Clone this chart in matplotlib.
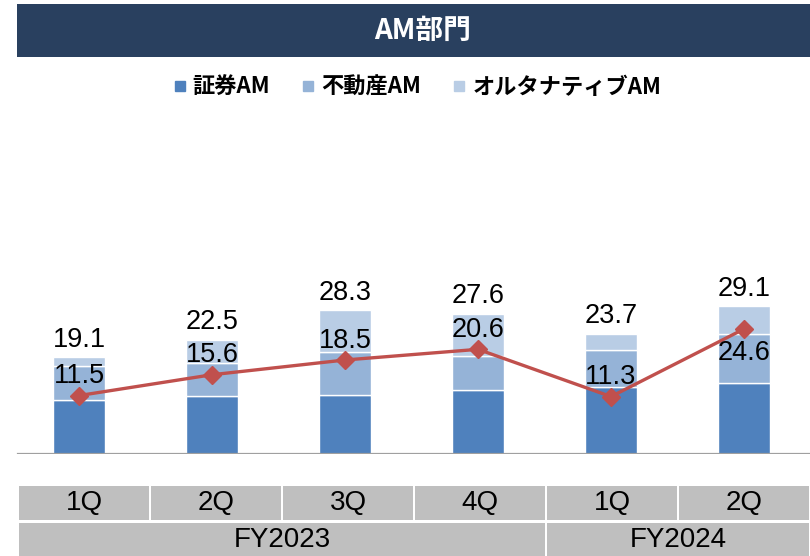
import matplotlib
matplotlib.use('Agg')
import matplotlib.pyplot as plt
from matplotlib.patches import Rectangle
from matplotlib.lines import Line2D

plt.rcParams['font.family'] = ['Liberation Sans', 'Noto Sans CJK JP', 'DejaVu Sans']

# データ
quarters = ['1Q', '2Q', '3Q', '4Q', '1Q', '2Q']
years = ['FY2023', 'FY2024']
year_counts = [4, 2]
securities = [10.6, 11.4, 11.6, 12.6, 13.2, 14.0]
real_estate = [6.7, 6.5, 8.5, 6.7, 7.3, 9.6]
alternative = [1.8, 4.6, 8.2, 8.3, 3.2, 5.5]
totals = [19.1, 22.5, 28.3, 27.6, 23.7, 29.1]
line_vals = [11.5, 15.6, 18.5, 20.6, 11.3, 24.6]
series_names = ['証券AM', '不動産AM', 'オルタナティブAM']

c_dark = '#4F81BD'
c_mid = '#95B3D7'
c_light = '#B9CDE5'
c_line = '#C0504D'
cjk = ['Noto Sans CJK JP', 'DejaVu Sans']

fig = plt.figure(figsize=(8.1, 5.56), dpi=100)

# タイトルバー
fig.patches.append(Rectangle((17 / 810, 1 - 57 / 556), 793 / 810, 53 / 556,
                             transform=fig.transFigure, facecolor='#29405F',
                             edgecolor='none', zorder=0))
fig.text(0.522, 1 - 31 / 556, 'AM部門', color='white', fontsize=20,
         fontweight='bold', family=cjk, ha='center', va='center')

# 棒グラフ
ax = fig.add_axes([12.5 / 810, 102 / 556, 798 / 810, 344 / 556])
x = list(range(len(quarters)))
w = 0.385
b2 = [a + b for a, b in zip(securities, real_estate)]
ax.bar(x, securities, w, color=c_dark, edgecolor='white', linewidth=1, zorder=2)
ax.bar(x, real_estate, w, bottom=securities, color=c_mid, edgecolor='white', linewidth=1, zorder=2)
ax.bar(x, alternative, w, bottom=b2, color=c_light, edgecolor='white', linewidth=1, zorder=2)
ax.plot(x, line_vals, color=c_line, linewidth=2.4, marker='D', markersize=9, zorder=3)

for i, t in enumerate(totals):
    ax.annotate(f'{t:.1f}', (x[i], t), xytext=(0, 12.5), textcoords='offset points',
                ha='center', va='center', fontsize=19.5, zorder=4)
for i, v in enumerate(line_vals):
    dy = -17 if i == len(line_vals) - 1 else 14
    ax.annotate(f'{v:.1f}', (x[i], v), xytext=(0, dy), textcoords='offset points',
                ha='center', va='center', fontsize=19.5, zorder=4)

ax.set_xlim(-0.5, len(quarters) - 0.5)
ax.set_ylim(0, 67.7)
ax.axhline(0, xmin=0.007, xmax=1, color='#A0A0A0', linewidth=1.6, zorder=3)
ax.axis('off')

# 凡例
handles = [Line2D([], [], linestyle='none', marker='s', markersize=7, color=c)
           for c in (c_dark, c_mid, c_light)]
fig.legend(handles, series_names, loc='center', bbox_to_anchor=(0.515, 1 - 87 / 556),
           ncol=3, frameon=False, handlelength=0.6, handletextpad=0.3,
           columnspacing=1.4, prop={'family': cjk, 'weight': 'bold', 'size': 16})

# 下部の表
tax = fig.add_axes([18 / 810, 0, 792 / 810, 70 / 556])
tax.set_xlim(-0.5, len(quarters) - 0.5)
tax.set_ylim(0, 1)
tax.axis('off')
gap = 0.011
for i, q in enumerate(quarters):
    tax.add_patch(Rectangle((i - 0.5 + gap, 36 / 70), 1 - 2 * gap, 34 / 70,
                            facecolor='#BFBFBF', edgecolor='none'))
    tax.text(i, 53 / 70, q, ha='center', va='center', fontsize=20)
start = 0
for y, n in zip(years, year_counts):
    tax.add_patch(Rectangle((start - 0.5 + gap, 0), n - 2 * gap, 33 / 70,
                            facecolor='#BFBFBF', edgecolor='none'))
    tax.text(start + (n - 1) / 2, 16 / 70, y, ha='center', va='center', fontsize=20)
    start += n

fig.savefig('out.png', dpi=100)
